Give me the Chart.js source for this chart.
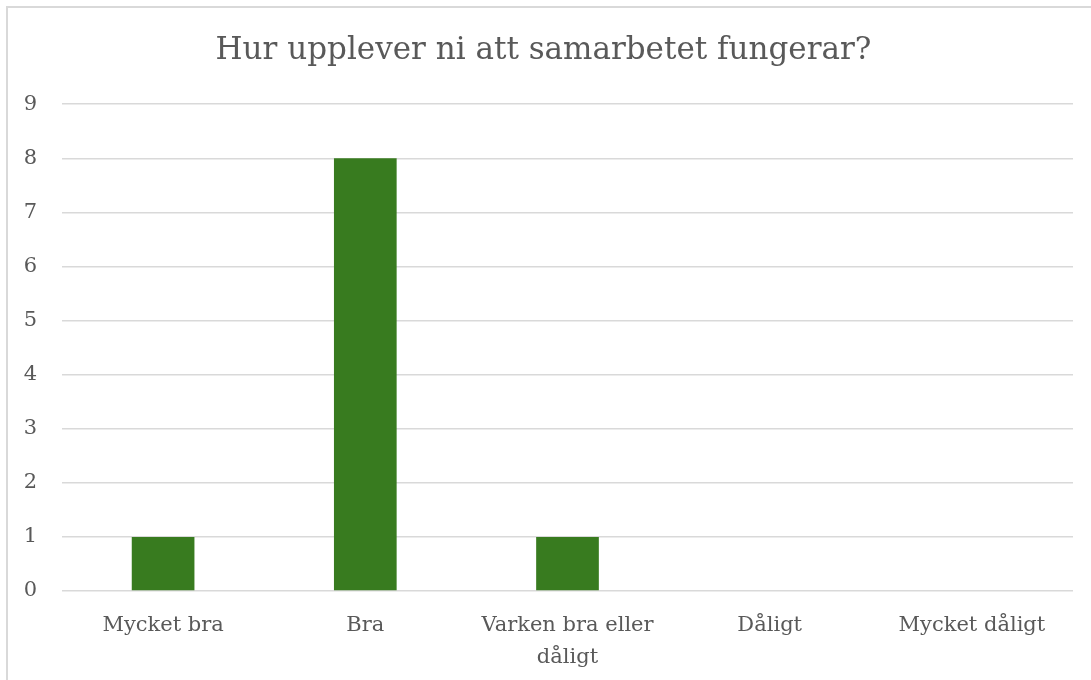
<!DOCTYPE html>
<html>
<head>
<meta charset="utf-8">
<script src="https://cdn.jsdelivr.net/npm/chart.js@4"></script>
<style>
  html, body { margin: 0; padding: 0; background: #fff; overflow: hidden; }
  #frame { position: absolute; left: 6px; top: 6px; width: 1200px; height: 800px; border: 2px solid #d9d9d9; }
  #wrap { position: absolute; left: 0; top: 0; width: 1091px; height: 680px; }
</style>
</head>
<body>
<div id="frame"></div>
<div id="wrap"><canvas id="chart"></canvas></div>
<script>
  // svarsalternativ och antal svar
  var categories = ['Mycket bra', 'Bra', ['Varken bra eller', 'dåligt'], 'Dåligt', 'Mycket dåligt'];
  var counts = [1, 8, 1, 0, 0];
  var yTicks = [0, 1, 2, 3, 4, 5, 6, 7, 8, 9];

  var font = "'DejaVu Serif', 'Liberation Serif', serif";
  Chart.defaults.font.family = font;
  Chart.defaults.color = '#595959';

  var ctx = document.getElementById('chart').getContext('2d');
  var chart = new Chart(ctx, {
    type: 'bar',
    data: {
      labels: categories,
      datasets: [{
        label: 'Antal',
        data: counts,
        backgroundColor: '#387b1f',
        categoryPercentage: 1,
        barPercentage: 0.31
      }]
    },
    options: {
      responsive: true,
      maintainAspectRatio: false,
      animation: false,
      layout: { padding: { left: 14, right: 18, top: 32, bottom: 0 } },
      plugins: {
        legend: { display: false },
        tooltip: { enabled: false },
        title: {
          display: true,
          text: 'Hur upplever ni att samarbetet fungerar?',
          font: { size: 31, weight: 'normal' },
          color: '#595959',
          padding: { top: 0, bottom: 35 }
        }
      },
      scales: {
        x: {
          afterFit: function (axis) { axis.height = 89; },
          grid: { display: false },
          border: { display: false },
          ticks: { font: { size: 21, lineHeight: 1.55 }, maxRotation: 0, autoSkip: false, padding: 10 }
        },
        y: {
          min: yTicks[0],
          max: yTicks[yTicks.length - 1],
          afterBuildTicks: function (axis) {
            axis.ticks = yTicks.map(function (v) { return { value: v }; });
          },
          afterFit: function (axis) { axis.width = 48; },
          grid: { color: '#d9d9d9', lineWidth: 1.5, drawTicks: false },
          border: { display: false },
          ticks: { font: { size: 21 }, padding: 25 }
        }
      }
    }
  });
</script>
</body>
</html>
